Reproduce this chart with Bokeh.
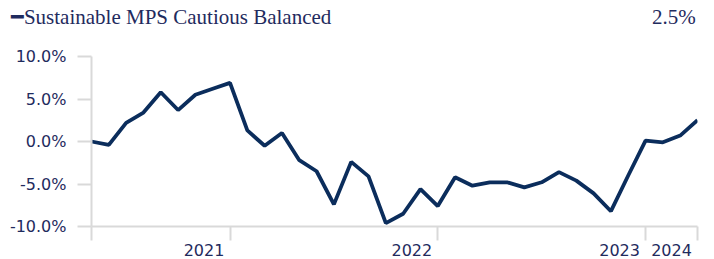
from bokeh.plotting import figure
from bokeh.models import Range1d, FixedTicker, LinearAxis
from bokeh.embed import file_html
from bokeh.resources import INLINE

# ---- data ----
series_name = "Sustainable MPS Cautious Balanced"
latest_label = "2.5%"
period_index = list(range(36))
returns_pct = [0.0, -0.4, 2.2, 3.4, 5.8, 3.7, 5.5, 6.2, 6.9, 1.3,
               -0.5, 1.0, -2.2, -3.5, -7.4, -2.4, -4.1, -9.6, -8.5, -5.6,
               -7.6, -4.2, -5.2, -4.8, -4.8, -5.4, -4.8, -3.6, -4.6, -6.1,
               -8.2, -4.0, 0.1, -0.1, 0.7, 2.5]
year_labels = ["2021", "2022", "2023", "2024"]
year_label_pos = [6.5, 18.5, 30.5, 33.5]
year_boundaries = [0, 8, 20, 32, 35]
y_ticks = [-10, -5, 0, 5, 10]
y_tick_labels = ["-10.0%", "-5.0%", "0.0%", "5.0%", "10.0%"]
header_pos = [4.6, 33.63]

TEXT = "#1f2b5e"
LINE = "#0b2d5c"
GRAY = "#d9d9d9"

p = figure(width=714, height=259, output_backend="svg", toolbar_location=None,
           x_range=Range1d(0, 35), y_range=Range1d(-10, 10),
           min_border_left=91, min_border_right=17, min_border_top=56,
           min_border_bottom=33)
p.outline_line_color = None
p.xgrid.visible = False
p.ygrid.visible = False
p.background_fill_color = "white"
p.border_fill_color = "white"

r = p.line(period_index, returns_pct, line_width=3.8, line_color=LINE)

# y axis
ya = p.yaxis[0]
ya.ticker = FixedTicker(ticks=y_ticks, minor_ticks=[])
ya.major_label_overrides = {t: l for t, l in zip(y_ticks, y_tick_labels)}
ya.axis_line_color = GRAY
ya.axis_line_width = 2
ya.major_tick_line_color = GRAY
ya.major_tick_line_width = 2
ya.major_tick_out = 14
ya.major_tick_in = 0
ya.minor_tick_line_color = None
ya.major_label_standoff = 11
ya.major_label_text_font = "DejaVu Sans"
ya.major_label_text_font_size = "16px"
ya.major_label_text_color = TEXT

# x axis
xa = p.xaxis[0]
xa.ticker = FixedTicker(ticks=year_label_pos, minor_ticks=year_boundaries)
xa.major_label_overrides = {t: l for t, l in zip(year_label_pos, year_labels)}
xa.axis_line_color = GRAY
xa.axis_line_width = 2
xa.major_tick_line_color = None
xa.major_tick_out = 0
xa.major_tick_in = 0
xa.minor_tick_line_color = GRAY
xa.minor_tick_line_width = 2
xa.minor_tick_out = 14
xa.minor_tick_in = 0
xa.major_label_standoff = 3
xa.major_label_text_font = "DejaVu Sans"
xa.major_label_text_font_size = "16px"
xa.major_label_text_color = TEXT

# header row (legend entry on the left, latest value on the right)
header = LinearAxis(ticker=FixedTicker(ticks=header_pos, minor_ticks=[]),
                    major_label_overrides={header_pos[0]: "\u2501" + series_name,
                                           header_pos[1]: latest_label})
header.axis_line_color = None
header.major_tick_line_color = None
header.minor_tick_line_color = None
header.major_tick_out = 0
header.major_tick_in = 0
header.major_label_standoff = 28
header.major_label_text_font = "Liberation Serif"
header.major_label_text_font_size = "21px"
header.major_label_text_color = TEXT
p.add_layout(header, "above")

open("out.html", "w").write(file_html(p, INLINE))
